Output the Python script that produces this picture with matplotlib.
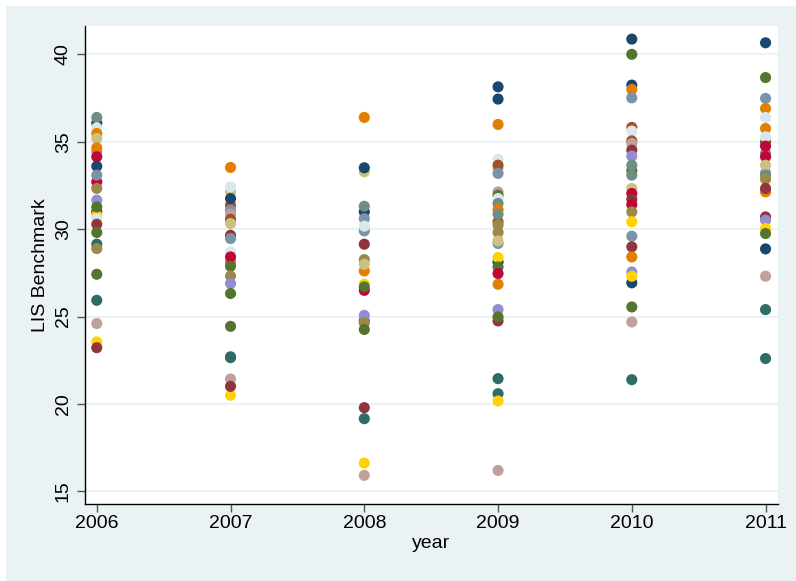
import matplotlib
matplotlib.use("Agg")
from matplotlib import pyplot as plt
import matplotlib.patches as mpatches

# stata s2color marker palette
palette = {
    'navy': '#1a476f', 'maroon': '#90353b', 'forest': '#55752f',
    'orange': '#e37e00', 'teal': '#6e8e84', 'cranberry': '#c10534',
    'lavender': '#938dd2', 'khaki': '#cac27e', 'sienna': '#a0522d',
    'emidblue': '#7b92a8', 'emerald': '#2d6d66', 'brown': '#9c8847',
    'erose': '#bfa19c', 'gold': '#ffd200', 'bgray': '#d9e6eb',
}

years = [2006, 2007, 2008, 2009, 2010, 2011]

# LIS benchmark values by year, with the marker colour of each point
lis_2006 = [36.06, 34.42, 32.70, 30.99, 30.80, 36.39, 35.80, 35.47, 35.19, 34.65,
            34.14, 33.60, 33.09, 32.33, 31.66, 31.27, 30.60, 30.28, 29.81, 29.14,
            28.89, 27.42, 25.93, 24.60, 23.55, 23.22]
col_2006 = ['navy', 'lavender', 'cranberry', 'navy', 'gold', 'teal', 'bgray', 'orange',
            'khaki', 'orange', 'cranberry', 'navy', 'emidblue', 'brown', 'lavender',
            'forest', 'bgray', 'maroon', 'forest', 'emerald', 'brown', 'forest',
            'emerald', 'erose', 'gold', 'maroon']

lis_2007 = [32.13, 31.37, 28.12, 33.53, 32.42, 31.75, 31.08, 30.86, 30.57, 30.32,
            29.65, 29.46, 28.70, 28.41, 27.88, 27.32, 26.89, 26.32, 24.44, 22.70,
            22.65, 21.43, 20.50, 21.01]
col_2007 = ['khaki', 'sienna', 'orange', 'orange', 'bgray', 'navy', 'emidblue', 'erose',
            'sienna', 'khaki', 'maroon', 'emidblue', 'bgray', 'cranberry', 'forest',
            'brown', 'lavender', 'forest', 'forest', 'emerald', 'emerald', 'erose',
            'gold', 'maroon']

lis_2008 = [33.28, 30.99, 29.90, 26.50, 24.75, 36.39, 33.51, 31.31, 30.60, 30.17,
            29.14, 28.26, 27.61, 27.99, 26.85, 26.70, 25.07, 24.64, 24.26, 19.79,
            19.16, 16.62, 15.92]
col_2008 = ['khaki', 'navy', 'emidblue', 'cranberry', 'maroon', 'orange', 'navy', 'teal',
            'emidblue', 'bgray', 'maroon', 'brown', 'orange', 'khaki', 'gold', 'forest',
            'lavender', 'brown', 'forest', 'maroon', 'emerald', 'gold', 'erose']

lis_2009 = [33.47, 30.42, 29.18, 24.75, 38.14, 37.44, 35.99, 33.99, 33.66, 33.19,
            32.13, 31.94, 31.75, 31.47, 31.12, 30.86, 30.23, 29.81, 29.33, 28.12,
            28.38, 27.84, 27.46, 26.85, 25.40, 24.98, 21.45, 20.59, 20.17, 16.20]
col_2009 = ['khaki', 'sienna', 'emidblue', 'maroon', 'navy', 'navy', 'orange', 'bgray',
            'sienna', 'emidblue', 'erose', 'forest', 'bgray', 'teal', 'orange', 'teal',
            'brown', 'brown', 'khaki', 'navy', 'gold', 'forest', 'cranberry', 'orange',
            'lavender', 'forest', 'emerald', 'emerald', 'gold', 'erose']

lis_2010 = [38.24, 33.34, 40.87, 40.00, 37.99, 37.51, 35.82, 35.61, 35.05, 34.90,
            34.52, 34.18, 33.66, 33.09, 32.33, 32.04, 31.71, 31.41, 30.99, 30.42,
            29.60, 28.99, 28.41, 26.93, 27.55, 27.31, 25.55, 24.69, 21.39]
col_2010 = ['navy', 'forest', 'navy', 'forest', 'orange', 'emidblue', 'sienna', 'bgray',
            'sienna', 'erose', 'maroon', 'lavender', 'teal', 'teal', 'khaki', 'cranberry',
            'maroon', 'cranberry', 'brown', 'gold', 'emidblue', 'maroon', 'orange',
            'navy', 'lavender', 'gold', 'forest', 'erose', 'emerald']

lis_2011 = [34.99, 34.33, 33.22, 32.13, 30.70, 40.66, 38.67, 37.48, 36.90, 36.39,
            35.76, 35.28, 34.75, 34.14, 33.66, 33.09, 32.86, 32.33, 30.51, 30.04,
            29.75, 28.87, 27.31, 25.40, 22.60]
col_2011 = ['forest', 'teal', 'lavender', 'orange', 'maroon', 'navy', 'forest', 'emidblue',
            'orange', 'bgray', 'orange', 'bgray', 'cranberry', 'cranberry', 'khaki',
            'teal', 'brown', 'maroon', 'lavender', 'gold', 'forest', 'navy', 'erose',
            'emerald', 'emerald']

lis_values = [lis_2006, lis_2007, lis_2008, lis_2009, lis_2010, lis_2011]
lis_colors = [col_2006, col_2007, col_2008, col_2009, col_2010, col_2011]

plt.rcParams['font.family'] = ['Liberation Sans', 'DejaVu Sans']

W, H = 796, 581
fig = plt.figure(figsize=(W / 100, H / 100), dpi=100, facecolor='white')
# graph region background, leaving a thin white strip top and left
fig.patches.append(mpatches.Rectangle((6 / W, 0), 1 - 6 / W, 1 - 6 / H,
                                      transform=fig.transFigure,
                                      facecolor='#eaf2f3', edgecolor='none',
                                      zorder=-1))

ax = fig.add_axes([85 / W, 1 - 504 / H, (778 - 85) / W, (504 - 26) / H])
ax.set_facecolor('white')

for yr, vals, cols in zip(years, lis_values, lis_colors):
    ax.scatter([yr] * len(vals), vals, s=64, c=[palette[k] for k in cols],
               linewidths=0, zorder=3)

ax.set_xlim(2005.912, 2011.093)
ax.set_ylim(14.28, 41.62)
ax.set_xticks(years)
ax.set_yticks([15, 20, 25, 30, 35, 40])
ax.grid(axis='y', color='#eaf2f3', linewidth=1.6, zorder=0)
ax.set_axisbelow(True)

for side in ['top', 'right']:
    ax.spines[side].set_visible(False)
for side in ['left', 'bottom']:
    ax.spines[side].set_color('black')
    ax.spines[side].set_linewidth(1.0)

ax.tick_params(axis='both', direction='out', length=5.5, width=1.0,
               color='#555555', labelsize=14)
ax.tick_params(axis='x', pad=2.5)
ax.tick_params(axis='y', pad=4)
plt.setp(ax.get_yticklabels(), rotation=90, va='center')

ax.set_xlabel('year', fontsize=14)
ax.set_ylabel('LIS Benchmark', fontsize=14)
ax.xaxis.set_label_coords(0.5, -0.064)
ax.yaxis.set_label_coords(-0.052, 0.5)

fig.savefig('out.png', dpi=100)
